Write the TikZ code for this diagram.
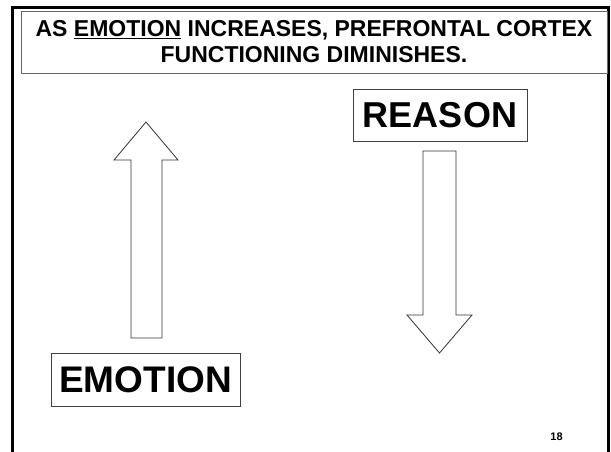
\documentclass[tikz,border=0pt]{standalone}
\usepackage{fontspec}
\setmainfont{Liberation Sans}
\begin{document}
\begin{tikzpicture}[x=1pt, y=-1pt, line join=miter,
	labelbox/.style={draw=black!75, line width=0.8pt, inner sep=0pt},
	blockarrow/.style={draw=black!80, line width=0.8pt, fill=white}]
	\useasboundingbox (0,0) rectangle (611,452);
	% slide frame
	\draw[line width=3pt] (12,452) -- (12,8) -- (608,8) -- (608,452);
	% title
	\node[labelbox, draw=black!60, minimum width=586pt, minimum height=62pt, align=center,
		font=\bfseries\fontsize{23}{26}\selectfont] (title) at (314,42)
		{AS \underline{EMOTION} INCREASES, PREFRONTAL CORTEX\\FUNCTIONING DIMINISHES.};
	\node[labelbox, minimum width=174pt, minimum height=52pt,
		font=\bfseries\fontsize{36}{40}\selectfont] (reason) at (440,115) {REASON};
	\node[labelbox, minimum width=189pt, minimum height=53pt,
		font=\bfseries\fontsize{37}{40}\selectfont] (emotion) at (145.5,379.5) {EMOTION};
	\node[font=\bfseries\fontsize{11}{12}\selectfont] (page) at (556.5,437) {18};
	% block arrows
	\path
	(146,122) coordinate (U)
	(439.5,353) coordinate (D)
	;
	\draw[blockarrow] (U) -- (178,160) -- (162,160) -- (162,338) -- (131,338) -- (131,160) -- (114,160) -- cycle;
	\draw[blockarrow] (D) -- (407,315) -- (423,315) -- (423,151) -- (456,151) -- (456,315) -- (472,315) -- cycle;
\end{tikzpicture}
\end{document}
